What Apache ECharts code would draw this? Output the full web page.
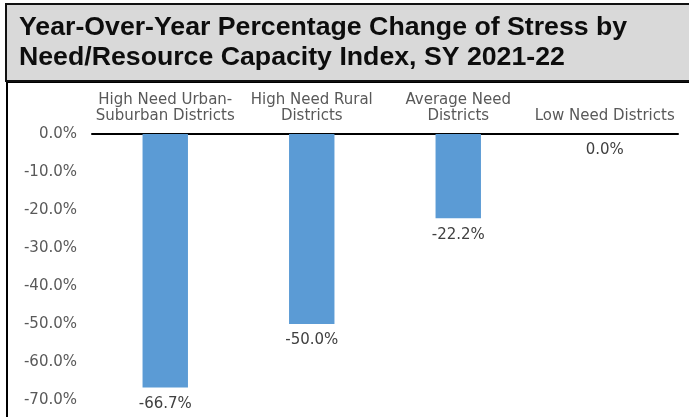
<!DOCTYPE html>
<html>
<head>
<meta charset="utf-8">
<style>
  html, body { margin: 0; padding: 0; background: #ffffff; }
  #chart { width: 689px; height: 417px; }
</style>
<script src="https://cdn.jsdelivr.net/npm/echarts@6/dist/echarts.min.js"></script>
</head>
<body>
<div id="chart"></div>
<script>
const titleLines = ['Year-Over-Year Percentage Change of Stress by', 'Need/Resource Capacity Index, SY 2021-22'];
const categories = ['High Need Urban-\nSuburban Districts', 'High Need Rural\nDistricts', 'Average Need\nDistricts', 'Low Need Districts'];
const values = [-66.7, -50.0, -22.2, 0.0];
const yTicks = { min: -70, max: 0, interval: 10 };

const chart = echarts.init(document.getElementById('chart'));
const axisFont = 'DejaVu Sans';
const titleFont = 'bold 26.7px "Liberation Sans", Arial, sans-serif';

chart.setOption({
  animation: false,
  backgroundColor: '#ffffff',
  graphic: [
    { type: 'rect', z: 0, shape: { x: 7, y: 82, width: 700, height: 345 }, style: { fill: '#ffffff', stroke: '#000000', lineWidth: 2 } },
    { type: 'rect', z: 1, shape: { x: 6, y: 4, width: 700, height: 77 }, style: { fill: '#d9d9d9', stroke: '#111111', lineWidth: 2 } },
    { type: 'text', z: 2, style: { x: 19, y: 28, text: titleLines[0], font: titleFont, fill: '#0d0d0d', textVerticalAlign: 'middle' } },
    { type: 'text', z: 2, style: { x: 19, y: 58, text: titleLines[1], font: titleFont, fill: '#0d0d0d', textVerticalAlign: 'middle' } }
  ],
  grid: { left: 92, right: 11, top: 134, bottom: 17, containLabel: false },
  xAxis: {
    type: 'category',
    position: 'top',
    data: categories,
    axisLine: { show: true, lineStyle: { color: '#000000', width: 2 } },
    axisTick: { show: false },
    axisLabel: { interval: 0, color: '#595959', fontFamily: axisFont, fontSize: 15, lineHeight: 16, margin: 10 },
    splitLine: { show: false }
  },
  yAxis: {
    type: 'value',
    min: yTicks.min,
    max: yTicks.max,
    interval: yTicks.interval,
    axisLine: { show: false },
    axisTick: { show: false },
    splitLine: { show: false },
    axisLabel: { color: '#595959', fontFamily: axisFont, fontSize: 15, margin: 15, formatter: v => v.toFixed(1) + '%' }
  },
  series: [{
    type: 'bar',
    data: values,
    barWidth: '31%',
    itemStyle: { color: '#5b9bd5' },
    label: {
      show: true,
      position: 'bottom',
      distance: 9,
      color: '#404040',
      fontFamily: axisFont,
      fontSize: 15,
      formatter: p => p.value.toFixed(1) + '%'
    }
  }]
});
</script>
</body>
</html>
